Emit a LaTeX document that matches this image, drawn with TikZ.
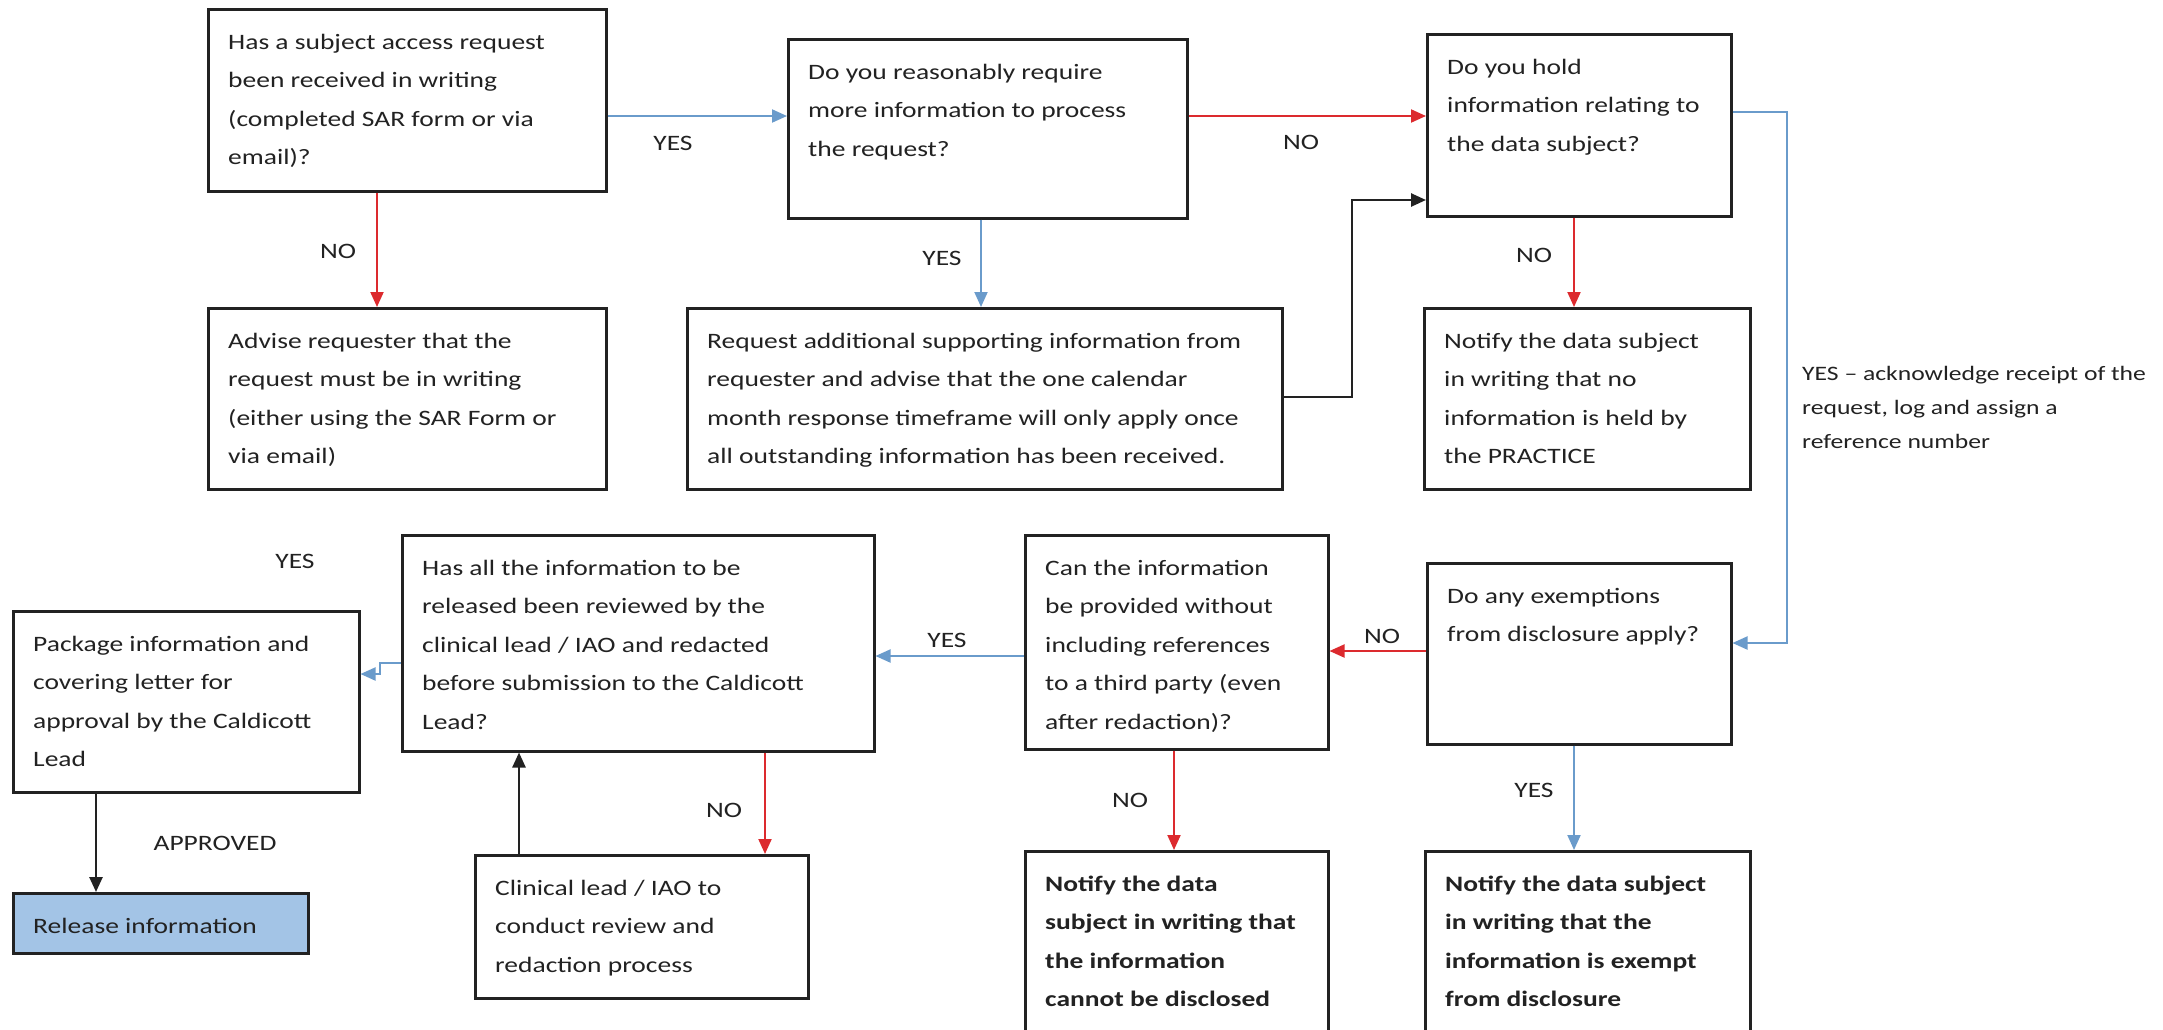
\documentclass[tikz,border=0pt]{standalone}
\usepackage{fontspec}
\setmainfont{Carlito}[FakeStretch=1.25]
\usetikzlibrary{arrows.meta,calc}
\definecolor{myblue}{HTML}{6A9BCB}
\definecolor{myred}{HTML}{DC2A2E}
\definecolor{relfill}{HTML}{A3C4E6}
\definecolor{ink}{HTML}{222222}
\tikzset{
  box/.style={draw=ink, line width=2.5pt, rectangle, inner sep=0pt},
  txt/.style={font=\fontsize{22}{38.5}\selectfont, inner sep=0pt, text=ink},
  lbl/.style={font=\fontsize{22}{26}\selectfont, inner sep=0pt, text=ink},
  barr/.style={draw=myblue, line width=2pt, -{Triangle[length=15pt,width=13pt]}},
  rarr/.style={draw=myred, line width=2pt, -{Triangle[length=15pt,width=13pt]}},
  karr/.style={draw=ink, line width=2.5pt, -{Triangle[length=15pt,width=13pt]}},
}
\newcommand{\boxat}[7][]{%
  \node[box, #1, minimum width=#5pt, minimum height=#6pt, anchor=north west] (#2) at (#3,#4) {};
  \node[txt, anchor=base west] (#2t) at ($(#2.north west)+(21,41)$) {\begin{tabular}[t]{@{}l@{}}#7\end{tabular}};
}
\begin{document}
\begin{tikzpicture}[x=1pt,y=-1pt]
\useasboundingbox (0,0) rectangle (2163,1029);
\clip (0,0) rectangle (2163,1029);
\fill[white] (0,0) rectangle (2163,1029);

\boxat{b1}{207}{8}{398}{182}{Has a subject access request\\been received in writing\\(completed SAR form or via\\email)?}
\boxat{b2}{787}{38}{399}{179}{Do you reasonably require\\more information to process\\the request?}
\boxat{b3}{1426}{33}{304}{182}{Do you hold\\information relating to\\the data subject?}
\boxat{b4}{207}{307}{398}{181}{Advise requester that the\\request must be in writing\\(either using the SAR Form or\\via email)}
\boxat{b5}{686}{307}{595}{181}{Request additional supporting information from\\requester and advise that the one calendar\\month response timeframe will only apply once\\all outstanding information has been received.}
\boxat{b6}{1423}{307}{326}{181}{Notify the data subject\\in writing that no\\information is held by\\the PRACTICE}
\boxat{b8}{401}{534}{472}{216}{Has all the information to be\\released been reviewed by the\\clinical lead / IAO and redacted\\before submission to the Caldicott\\Lead?}
\boxat{b9}{12}{610}{346}{181}{Package information and\\covering letter for\\approval by the Caldicott\\Lead}
\boxat[fill=relfill]{rel}{12}{892}{295}{60}{Release information}
\boxat{b11}{474}{854}{333}{143}{Clinical lead / IAO to\\conduct review and\\redaction process}
\boxat{b10}{1024}{534}{303}{214}{Can the information\\be provided without\\including references\\to a third party (even\\after redaction)?}
\boxat{b7}{1426}{562}{304}{181}{Do any exemptions\\from disclosure apply?}
\boxat{b12}{1024}{850}{303}{220}{\bfseries Notify the data\\\bfseries subject in writing that\\\bfseries the information\\\bfseries cannot be disclosed}
\boxat{b13}{1424}{850}{325}{220}{\bfseries Notify the data subject\\\bfseries in writing that the\\\bfseries information is exempt\\\bfseries from disclosure}

\coordinate (k1) at (1352,200);
\coordinate (r1) at (1787,112);
\coordinate (r2) at (1787,643);
\coordinate (e1) at (380,663);
\coordinate (e2) at (380,674);

% connectors
\draw[barr] (b1.east |- 0,116) -- (b2.west |- 0,116);
\draw[rarr] (b2.east |- 0,116) -- (b3.west |- 0,116);
\draw[rarr] (b1.south -| 377,0) -- (b4.north -| 377,0);
\draw[barr] (b2.south -| 981,0) -- (b5.north -| 981,0);
\draw[karr] (b5.east |- 0,397) -| (k1) -- (b3.west |- k1);
\draw[rarr] (b3.south -| 1574,0) -- (b6.north -| 1574,0);
\draw[barr] (b3.east |- r1) -- (r1) -- (r2) -- (b7.east |- r2);
\draw[rarr] (b7.west |- 0,651) -- (b10.east |- 0,651);
\draw[barr] (b10.west |- 0,656) -- (b8.east |- 0,656);
\draw[barr] (b8.west |- e1) -- (e1) -- (e2) -- (b9.east |- e2);
\draw[karr] (b9.south -| 96,0) -- (rel.north -| 96,0);
\draw[rarr] (b8.south -| 765,0) -- (b11.north -| 765,0);
\draw[karr] (b11.north -| 519,0) -- (b8.south -| 519,0);
\draw[rarr] (b10.south -| 1174,0) -- (b12.north -| 1174,0);
\draw[barr] (b7.south -| 1574,0) -- (b13.north -| 1574,0);

% labels
\node[lbl] (l1) at (673,143) {YES};
\node[lbl] (l2) at (1301,142) {NO};
\node[lbl] (l3) at (338,251) {NO};
\node[lbl] (l4) at (942,258) {YES};
\node[lbl] (l5) at (1534,255) {NO};
\node[lbl] (l6) at (295,561) {YES};
\node[lbl] (l7) at (947,640) {YES};
\node[lbl] (l8) at (1382,636) {NO};
\node[lbl] (l9) at (724,810) {NO};
\node[lbl] (l10) at (215,843) {APPROVED};
\node[lbl] (l11) at (1130,800) {NO};
\node[lbl] (l12) at (1534,790) {YES};
\node[txt, font=\fontsize{20.5}{34}\selectfont, anchor=base west] (l13) at (1802,380) {\begin{tabular}[t]{@{}l@{}}YES -- acknowledge receipt of the\\request, log and assign a\\reference number\end{tabular}};
\end{tikzpicture}
\end{document}
